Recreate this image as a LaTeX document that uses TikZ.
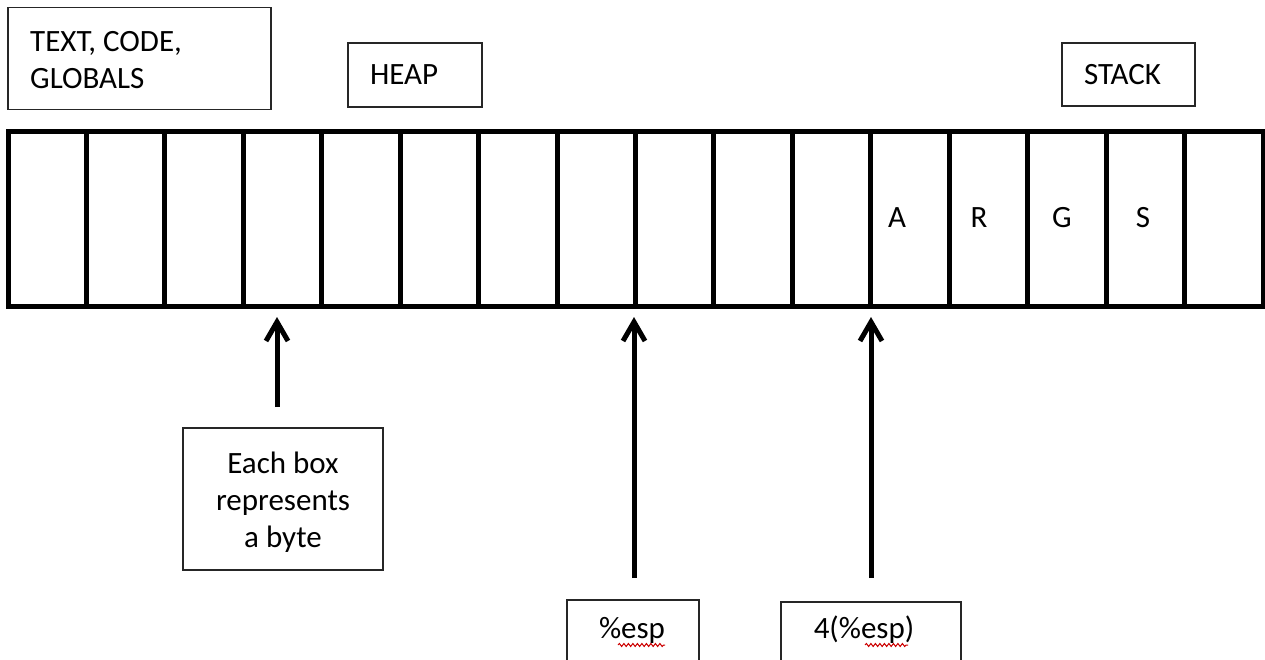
\documentclass[tikz,border=0pt]{standalone}
\usepackage{fontspec}
\setmainfont{Carlito}
\usetikzlibrary{arrows.meta,decorations.pathmorphing}
\begin{document}
\begin{tikzpicture}[x=1pt,y=-1pt,
  txt/.style={font=\fontsize{31}{37}\selectfont, inner sep=0pt},
  frame/.style={draw=black!85, line width=1.6pt, inner sep=0pt},
  tag/.style={frame, txt, align=left, inner xsep=22pt},
  cell/.style={draw=black, line width=5pt, minimum width=78.44pt, minimum height=175pt, inner sep=0pt},
  pointer/.style={line width=5pt, -{Straight Barb[length=19pt,width=22pt,line width=5pt]}},
  squiggle/.style={draw=red!80!black, line width=1pt, decorate,
    decoration={snake, amplitude=1.5pt, segment length=4.5pt}}]
\useasboundingbox (0,0) rectangle (1265,659);

% segment labels above the memory
\node[frame, minimum width=263pt, minimum height=102pt] (text) at (139.5,58.5) {};
\node[txt, align=left, anchor=west] (texttext) at (30,60) {TEXT, CODE,\\GLOBALS};
\node[tag, text width=90pt, minimum height=64pt] (heap) at (415,75) {HEAP};
\node[tag, text width=89pt, minimum height=63pt] (stack) at (1128.5,74.5) {STACK};

% sixteen one-byte cells
\foreach \i in {0,...,15}
  \node[cell] (c\i) at ({8+78.44*(\i+0.5)},218.5) {};

% bytes of the string
\node[txt, anchor=base] (ba) at (897,227) {A};
\node[txt, anchor=base] (br) at (979,227) {R};
\node[txt, anchor=base] (bg) at (1062,227) {G};
\node[txt, anchor=base] (bs) at (1143,227) {S};

% explanatory note and register boxes
\node[frame, minimum width=200pt, minimum height=142pt] (each) at (283,499) {};
\node[txt, align=center] (eachtext) at (283,502) {Each box\\represents\\a byte};
\node[frame, minimum width=132pt, minimum height=100pt, anchor=north] (espbox) at (633,599) {};
\node[txt] (esp) at (632,630) {\%esp};
\node[frame, minimum width=180pt, minimum height=100pt, anchor=north] (offbox) at (871,601) {};
\node[txt] (off) at (864,630) {4(\%esp)};

% spell-check underlines
\draw[squiggle] (618,645) -- (665,645);
\draw[squiggle] (865,645) -- (908,645);

% pointers into the memory
\coordinate (t1) at (277,317);
\coordinate (t2) at (634,317);
\coordinate (t3) at (871,317);
\draw[pointer] ([xshift=-6pt,yshift=20pt]each.north) -- (t1);
\draw[pointer] ([xshift=1pt,yshift=21pt]espbox.north) -- (t2);
\draw[pointer] ([yshift=23pt]offbox.north) -- (t3);
\end{tikzpicture}
\end{document}
